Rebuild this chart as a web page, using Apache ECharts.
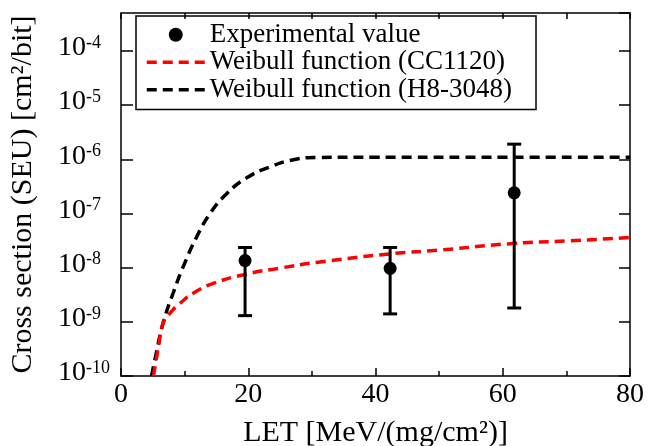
<!DOCTYPE html>
<html>
<head>
<meta charset="utf-8">
<script src="https://cdn.jsdelivr.net/npm/echarts@6/dist/echarts.min.js"></script>
<style>
  html, body { margin: 0; padding: 0; background: #fff; }
  #chart { width: 650px; height: 446px; }
</style>
</head>
<body>
<div id="chart"></div>
<script>
// measured points with error bars
var expLET = [19.5, 42.3, 61.8];
var expSigma = [1.35e-8, 9.7e-9, 2.4e-7];
var errLow = [1.3e-9, 1.4e-9, 1.8e-9];
var errHigh = [2.35e-8, 2.35e-8, 1.9e-6];

// Weibull fit CC1120 (red)
var ccLET = [5.1, 5.35, 5.9, 6.6, 7.7, 9.3, 11.4, 14.5, 19.7, 25, 31, 42.8, 50, 61.7, 70, 80];
var ccSigma = [1.0e-10, 1.5e-10, 3.5e-10, 9.3e-10, 1.45e-9, 2.2e-9, 3.4e-9, 5.1e-9, 7.6e-9, 9.8e-9, 1.26e-8, 1.82e-8, 2.1e-8, 2.8e-8, 3.1e-8, 3.6e-8];

// Weibull fit H8-3048 (black)
var hLET = [4.8, 5.5, 6.6, 8.2, 10.0, 11.9, 14.0, 16.6, 19.7, 23.4, 27.1, 30.8, 40, 60, 80];
var hSigma = [1.0e-10, 2.5e-10, 9.3e-10, 3.4e-9, 1.2e-8, 3.7e-8, 1.0e-7, 2.3e-7, 4.5e-7, 7.2e-7, 9.8e-7, 1.08e-6, 1.09e-6, 1.09e-6, 1.09e-6];

var legendNames = ['Experimental value', 'Weibull function (CC1120)', 'Weibull function (H8-3048)'];
var xTitle = 'LET [MeV/(mg/cm\u00b2)]';
var yTitle = 'Cross section (SEU) [cm\u00b2/bit]';

var FONT = 'Liberation Serif';

function zip(a, b) {
  return a.map(function (v, i) { return [v, b[i]]; });
}

var myChart = echarts.init(document.getElementById('chart'), null, { renderer: 'canvas' });

var hideDot = { color: 'rgba(0,0,0,0)', borderWidth: 0, opacity: 0 };

var option = {
  backgroundColor: '#fff',
  animation: false,
  textStyle: { fontFamily: FONT, color: '#000' },
  grid: { left: 121, right: 20, top: 13, bottom: 70, outerBoundsMode: 'none', containLabel: false },
  legend: {
    orient: 'vertical',
    left: 136,
    top: 16,
    borderColor: '#000',
    borderWidth: 1.5,
    padding: [5, 24, 6, 9],
    itemWidth: 58,
    itemHeight: 14,
    itemGap: 0,
    textStyle: { fontFamily: FONT, fontSize: 27, lineHeight: 27.5, color: '#000' },
    data: [
      { name: legendNames[0], icon: 'circle', itemStyle: { color: '#000', opacity: 1 } },
      { name: legendNames[1], itemStyle: hideDot, lineStyle: { color: '#ff0000', width: 3.5, type: [10, 6] } },
      { name: legendNames[2], itemStyle: hideDot, lineStyle: { color: '#000', width: 3.5, type: [10, 6] } }
    ]
  },
  xAxis: [
    {
      type: 'value',
      min: 0,
      max: 80,
      interval: 20,
      name: xTitle,
      nameLocation: 'middle',
      nameGap: 42,
      nameTextStyle: { fontFamily: FONT, fontSize: 30, lineHeight: 30, color: '#000' },
      axisLine: { onZero: false, lineStyle: { color: '#000', width: 1.5 } },
      axisTick: { inside: true, length: 8, lineStyle: { color: '#000', width: 1.5 } },
      minorTick: { show: true, splitNumber: 2, length: 5, lineStyle: { color: '#000', width: 1.5 } },
      axisLabel: { fontFamily: FONT, fontSize: 28, lineHeight: 28, color: '#000', margin: 5 },
      splitLine: { show: false }
    },
    {
      type: 'value',
      position: 'top',
      min: 0,
      max: 80,
      interval: 10,
      axisLine: { onZero: false, lineStyle: { color: '#000', width: 1.5 } },
      axisTick: { inside: true, length: 6, lineStyle: { color: '#000', width: 1.5 } },
      axisLabel: { show: false },
      splitLine: { show: false }
    }
  ],
  yAxis: [
    {
      type: 'log',
      min: 1e-10,
      max: 5e-4,
      splitNumber: 7,
      name: yTitle,
      nameLocation: 'middle',
      nameGap: 83,
      nameTextStyle: { fontFamily: FONT, fontSize: 30, lineHeight: 30, color: '#000' },
      axisLine: { onZero: false, lineStyle: { color: '#000', width: 1.5 } },
      axisTick: { inside: true, length: 12, lineStyle: { color: '#000', width: 1.5 } },
      axisLabel: {
        align: 'left',
        margin: 63,
        showMaxLabel: false,
        padding: [0, 0, 6, 0],
        formatter: function (v) {
          var e = Math.log10(v);
          if (Math.abs(e - Math.round(e)) > 1e-6) return '';
          return '{b|10}{s|' + Math.round(e) + '}';
        },
        rich: {
          b: { fontFamily: FONT, fontSize: 28, lineHeight: 28, color: '#000', verticalAlign: 'bottom' },
          s: { fontFamily: FONT, fontSize: 18, lineHeight: 18, color: '#000', verticalAlign: 'top', padding: [0, 0, 12, 0] }
        }
      },
      splitLine: { show: false }
    },
    {
      type: 'log',
      position: 'right',
      min: 1e-10,
      max: 5e-4,
      splitNumber: 7,
      axisLine: { onZero: false, lineStyle: { color: '#000', width: 1.5 } },
      axisTick: { inside: true, length: 11, lineStyle: { color: '#000', width: 1.5 } },
      axisLabel: { show: false },
      splitLine: { show: false }
    }
  ],
  series: [
    {
      name: legendNames[0],
      type: 'scatter',
      symbol: 'circle',
      symbolSize: 13,
      itemStyle: { color: '#000', opacity: 1 },
      z: 6,
      data: zip(expLET, expSigma)
    },
    {
      name: 'error',
      type: 'custom',
      z: 5,
      encode: { x: 0, y: [1, 2] },
      renderItem: function (params, api) {
        var x = api.value(0);
        var lo = api.coord([x, api.value(1)]);
        var hi = api.coord([x, api.value(2)]);
        var w = 7;
        var st = { stroke: '#000', lineWidth: 3 };
        return {
          type: 'group',
          children: [
            { type: 'line', shape: { x1: lo[0], y1: lo[1], x2: hi[0], y2: hi[1] }, style: st },
            { type: 'line', shape: { x1: hi[0] - w, y1: hi[1], x2: hi[0] + w, y2: hi[1] }, style: st },
            { type: 'line', shape: { x1: lo[0] - w, y1: lo[1], x2: lo[0] + w, y2: lo[1] }, style: st }
          ]
        };
      },
      data: expLET.map(function (x, i) { return [x, errLow[i], errHigh[i]]; })
    },
    {
      name: legendNames[1],
      type: 'line',
      symbol: 'none',
      smooth: 0.5,
      z: 4,
      lineStyle: { color: '#ff0000', width: 3.5, type: [10, 6] },
      itemStyle: { color: '#ff0000' },
      data: zip(ccLET, ccSigma)
    },
    {
      name: legendNames[2],
      type: 'line',
      symbol: 'none',
      smooth: 0.5,
      z: 3,
      lineStyle: { color: '#000', width: 3.5, type: [10, 6] },
      itemStyle: { color: '#000' },
      data: zip(hLET, hSigma)
    }
  ]
};

myChart.setOption(option);
</script>
</body>
</html>
